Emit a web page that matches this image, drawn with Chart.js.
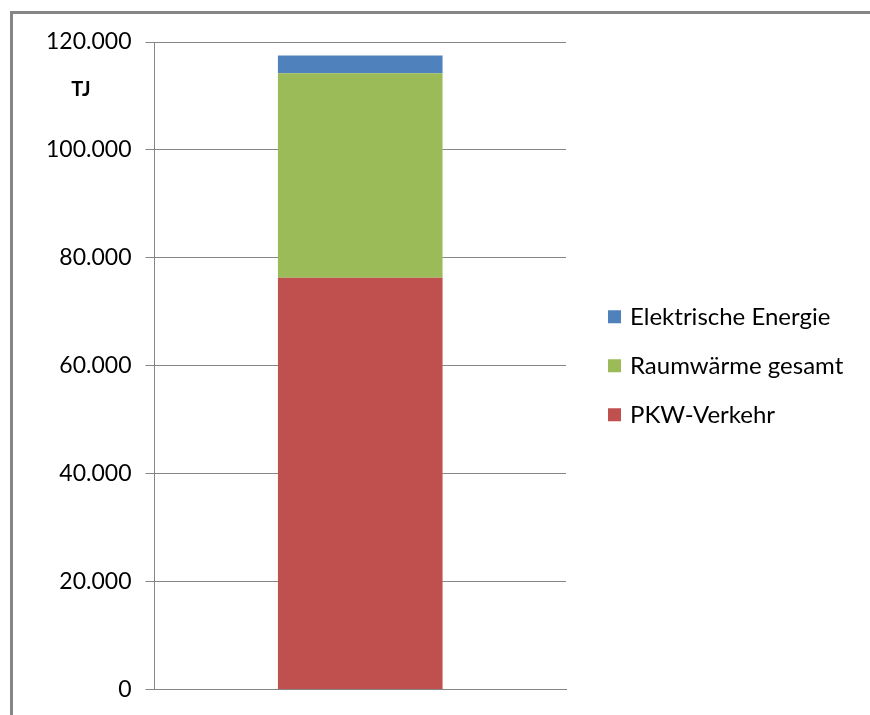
<!DOCTYPE html>
<html>
<head>
<meta charset="utf-8">
<script src="https://cdn.jsdelivr.net/npm/chart.js@4"></script>
<style>
  html, body { margin: 0; padding: 0; background: #fff; }
  #wrap { position: relative; width: 870px; height: 715px; }
  #frame { position: absolute; left: 10px; top: 11px; right: -10px; bottom: -10px;
    border-left: 3px solid #868686; border-top: 3px solid #868686; }
  canvas { position: absolute; left: 0; top: 0; }
</style>
</head>
<body>
<div id="wrap">
  <div id="frame"></div>
  <canvas id="myChart" width="870" height="715"></canvas>
</div>
<script>
const categories = ['']
const pkwVerkehr = [76300]
const raumwaerme = [37900]
const elektrisch = [3300]
const seriesNames = ['PKW-Verkehr', 'Raumwärme gesamt', 'Elektrische Energie']
const yTicks = [0, 20000, 40000, 60000, 80000, 100000, 120000]

function fmt (v) {
  return String(v).replace(/\B(?=(\d{3})+(?!\d))/g, '.')
}

// unit label + legend on the right, drawn by hand
const extras = {
  id: 'extras',
  afterDraw (chart) {
    const c = chart.ctx
    const area = chart.chartArea
    c.save()
    c.font = 'bold 20px Lato'
    c.fillStyle = '#000'
    c.textAlign = 'center'
    c.textBaseline = 'middle'
    c.fillText('TJ', 81, 90)

    const sets = chart.data.datasets.slice().reverse()
    const mid = (area.top + area.bottom) / 2
    const gap = 49
    c.font = '24px Lato'
    c.textAlign = 'left'
    sets.forEach((ds, i) => {
      const y = mid + (i - (sets.length - 1) / 2) * gap
      c.fillStyle = ds.backgroundColor
      c.fillRect(608, y - 6.5, 13, 13)
      c.fillStyle = '#000'
      c.fillText(ds.label, 630, y + 1)
    })
    c.restore()
  }
}

function draw () {
  const ctx = document.getElementById('myChart')
  new Chart(ctx, {
    type: 'bar',
    data: {
      labels: categories,
      datasets: [
        { label: seriesNames[0], data: pkwVerkehr, backgroundColor: '#C0504D' },
        { label: seriesNames[1], data: raumwaerme, backgroundColor: '#9BBB59' },
        { label: seriesNames[2], data: elektrisch, backgroundColor: '#4F81BD' }
      ]
    },
    options: {
      responsive: false,
      animation: false,
      layout: { padding: { left: 32, top: 42, bottom: 12, right: 304 } },
      datasets: { bar: { categoryPercentage: 1, barPercentage: 0.4 } },
      scales: {
        x: {
          stacked: true,
          grid: { display: false },
          border: { display: true, color: '#868686', width: 1 },
          ticks: { display: false, padding: 0 }
        },
        y: {
          stacked: true,
          min: 0,
          max: 120000,
          afterBuildTicks: axis => { axis.ticks = yTicks.map(v => ({ value: v })) },
          grid: { color: '#868686', tickLength: 9, drawTicks: true },
          border: { display: true, color: '#868686' },
          ticks: {
            padding: 14,
            color: '#000',
            font: { family: 'Lato', size: 23, lineHeight: 1 },
            callback: v => fmt(v)
          }
        }
      },
      plugins: {
        legend: { display: false },
        tooltip: { enabled: false }
      }
    },
    plugins: [extras]
  })
}

Promise.all([
  document.fonts.load('23px Lato'),
  document.fonts.load('24px Lato'),
  document.fonts.load('bold 20px Lato')
]).then(draw, draw)
</script>
</body>
</html>
